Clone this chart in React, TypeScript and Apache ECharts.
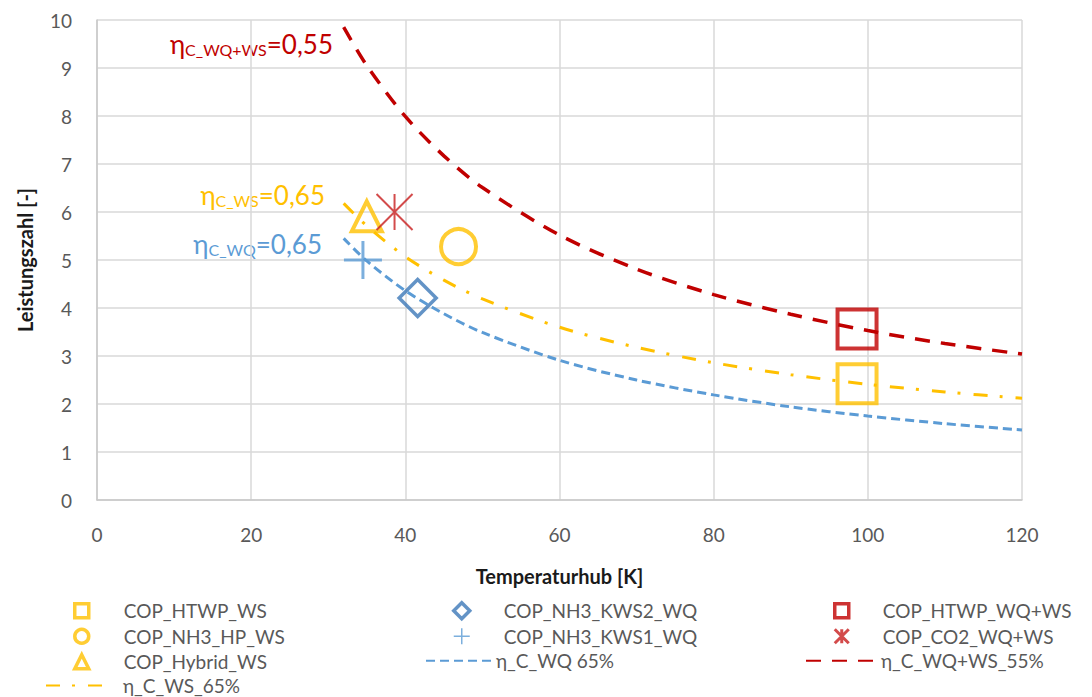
import React, { useEffect, useRef } from "react";
import * as echarts from "echarts";

// ---- data ----
const xTicks = [0, 20, 40, 60, 80, 100, 120];
const curveX = [32, 35, 40, 45, 50, 60, 70, 80, 90, 100, 110, 120];
const etaWQ65 = [5.45, 4.98, 4.36, 3.88, 3.49, 2.91, 2.5, 2.19, 1.94, 1.75, 1.59, 1.46];
const etaWS65 = [6.18, 5.71, 5.07, 4.58, 4.19, 3.6, 3.18, 2.86, 2.61, 2.41, 2.25, 2.12];
const etaWQWS55 = [9.85, 9.05, 7.99, 7.17, 6.51, 5.52, 4.81, 4.28, 3.87, 3.53, 3.26, 3.04];

const copHTWP_WS = [[98.6, 2.42]];
const copNH3_HP_WS = [[46.9, 5.28]];
const copHybrid_WS = [[35.0, 5.91]];
const copNH3_KWS2_WQ = [[41.6, 4.21]];
const copNH3_KWS1_WQ = [[34.5, 5.0]];
const copHTWP_WQWS = [[98.6, 3.56]];
const copCO2_WQWS = [[38.6, 6.0]];

const FONT = "Lato";
const YEL = "#FFC000";
const BLU = "#5B9BD5";
const BLU2 = "#3C78B8";
const RED = "#C00000";
const TXT = "#595959";

const pairs = (xs: number[], ys: number[]) => xs.map((x, i) => [x, ys[i]]);

const PLUS = "path://M5,0L5,10M0,5L10,5";
const STAR = "path://M5,0L5,10M0,0L10,10M10,0L0,10";

export default function App() {
  const ref = useRef<HTMLDivElement>(null);
  useEffect(() => {
    document.body.style.margin = "0";
    const chart = echarts.init(ref.current!, null, { renderer: "svg" });
    const legendText = (pad: number, lh = 25.5) => ({
      fontFamily: FONT,
      fontSize: 19,
      color: TXT,
      lineHeight: lh,
      padding: [0, 0, 0, pad],
    });
    const base = {
      orient: "vertical",
      padding: 0,
      itemGap: 0,
      selectedMode: false,
    };
    const lineItem = (name: string) => ({ name, itemStyle: { opacity: 0 } });
    const annot = (text: string, x: number, y: number, color: string) => ({
      type: "text",
      x,
      y,
      style: {
        text,
        align: "right",
        verticalAlign: "bottom",
        fill: color,
        rich: {
          e: { fontFamily: FONT, fontSize: 26, lineHeight: 26, verticalAlign: "bottom", fill: color },
          s: { fontFamily: FONT, fontSize: 16, lineHeight: 16, verticalAlign: "bottom", fill: color },
        },
      },
    });
    const hollow = (c: string, bw: number) => ({ color: "rgba(0,0,0,0)", borderColor: c, borderWidth: bw });
    chart.setOption({
      animation: false,
      backgroundColor: "#ffffff",
      grid: { left: 97, right: 70, top: 20, bottom: 197, containLabel: false },
      xAxis: {
        type: "value",
        min: 0,
        max: 120,
        interval: 20,
        name: "Temperaturhub [K]",
        nameLocation: "middle",
        nameGap: 66,
        nameTextStyle: { fontFamily: FONT, fontSize: 20, fontWeight: "bold", color: "#1a1a1a" },
        axisLine: { show: true, lineStyle: { color: "#C8C8C8", width: 1.5 } },
        axisTick: { show: false },
        axisLabel: {
          fontFamily: FONT,
          fontSize: 19,
          color: TXT,
          margin: 25,
          formatter: (v: number) => (xTicks.includes(v) ? String(v) : ""),
        },
        splitLine: { show: true, lineStyle: { color: "#D9D9D9", width: 1.5 } },
      },
      yAxis: {
        type: "value",
        min: 0,
        max: 10,
        interval: 1,
        name: "Leistungszahl [-]",
        nameLocation: "middle",
        nameGap: 62,
        nameTextStyle: { fontFamily: FONT, fontSize: 20, fontWeight: "bold", color: "#1a1a1a" },
        axisLine: { show: true, lineStyle: { color: "#C8C8C8", width: 1.5 } },
        axisTick: { show: false },
        axisLabel: { fontFamily: FONT, fontSize: 19, color: TXT, margin: 25 },
        splitLine: { show: true, lineStyle: { color: "#D9D9D9", width: 1.5 } },
      },
      legend: [
        {
          ...base,
          data: [
            { name: "COP_HTWP_WS", itemStyle: { borderWidth: 3.5 } },
            { name: "COP_NH3_HP_WS", itemStyle: { borderWidth: 3.5 } },
            { name: "COP_Hybrid_WS", itemStyle: { borderWidth: 3.5 } },
          ],
          left: 73,
          top: 598,
          itemWidth: 14,
          itemHeight: 14,
          textStyle: legendText(30),
        },
        {
          ...base,
          data: [lineItem("η_C_WS_65%")],
          left: 45,
          top: 676,
          itemWidth: 57,
          itemHeight: 14,
          textStyle: legendText(15, 16),
        },
        {
          ...base,
          data: [
            { name: "COP_NH3_KWS2_WQ", itemStyle: { borderWidth: 3.5 } },
            { name: "COP_NH3_KWS1_WQ", itemStyle: { borderWidth: 1.5 } },
          ],
          left: 452,
          top: 598,
          itemWidth: 16,
          itemHeight: 16,
          textStyle: legendText(29),
        },
        {
          ...base,
          data: [lineItem("η_C_WQ 65%")],
          left: 425,
          top: 648,
          itemWidth: 67,
          itemHeight: 14,
          textStyle: legendText(-2),
        },
        {
          ...base,
          data: [
            { name: "COP_HTWP_WQ+WS", itemStyle: { borderWidth: 3.5 } },
            { name: "COP_CO2_WQ+WS", itemStyle: { borderWidth: 3 } },
          ],
          left: 833,
          top: 598,
          itemWidth: 14,
          itemHeight: 14,
          textStyle: legendText(29),
        },
        {
          ...base,
          data: [lineItem("η_C_WQ+WS_55%")],
          left: 805,
          top: 648,
          itemWidth: 68,
          itemHeight: 14,
          textStyle: legendText(2),
        },
      ],
      graphic: [
        annot("{e|η}{s|C_WQ+WS}{e|=0,55}", 333, 57, RED),
        annot("{e|η}{s|C_WS}{e|=0,65}", 325, 208, YEL),
        annot("{e|η}{s|C_WQ}{e|=0,65}", 322, 257, BLU),
      ],
      series: [
        {
          name: "η_C_WQ 65%",
          type: "line",
          data: pairs(curveX, etaWQ65),
          symbol: "none",
          smooth: 0.3,
          z: 2,
          itemStyle: { color: BLU },
          lineStyle: { color: BLU, width: 3, type: [9, 5] },
        },
        {
          name: "η_C_WS_65%",
          type: "line",
          data: pairs(curveX, etaWS65),
          symbol: "none",
          smooth: 0.3,
          z: 2,
          itemStyle: { color: YEL },
          lineStyle: { color: YEL, width: 3, type: [14, 12, 3, 13] },
        },
        {
          name: "η_C_WQ+WS_55%",
          type: "line",
          data: pairs(curveX, etaWQWS55),
          symbol: "none",
          smooth: 0.3,
          z: 2,
          itemStyle: { color: RED },
          lineStyle: { color: RED, width: 3.5, type: [15, 11] },
        },
        {
          name: "COP_HTWP_WS",
          type: "scatter",
          data: copHTWP_WS,
          symbol: "rect",
          symbolSize: 39,
          z: 3,
          itemStyle: hollow(YEL, 4),
        },
        {
          name: "COP_NH3_HP_WS",
          type: "scatter",
          data: copNH3_HP_WS,
          symbol: "circle",
          symbolSize: 35,
          z: 3,
          itemStyle: hollow(YEL, 4),
        },
        {
          name: "COP_Hybrid_WS",
          type: "scatter",
          data: copHybrid_WS,
          symbol: "triangle",
          symbolSize: 30,
          z: 3,
          itemStyle: hollow(YEL, 4),
        },
        {
          name: "COP_NH3_KWS2_WQ",
          type: "scatter",
          data: copNH3_KWS2_WQ,
          symbol: "diamond",
          symbolSize: 37,
          z: 3,
          itemStyle: hollow(BLU2, 3.5),
        },
        {
          name: "COP_NH3_KWS1_WQ",
          type: "scatter",
          data: copNH3_KWS1_WQ,
          symbol: PLUS,
          symbolSize: 38,
          z: 3,
          itemStyle: hollow(BLU, 3),
        },
        {
          name: "COP_HTWP_WQ+WS",
          type: "scatter",
          data: copHTWP_WQWS,
          symbol: "rect",
          symbolSize: 39,
          z: 3,
          itemStyle: hollow(RED, 4),
        },
        {
          name: "COP_CO2_WQ+WS",
          type: "scatter",
          data: copCO2_WQWS,
          symbol: STAR,
          symbolSize: 36,
          z: 3,
          itemStyle: hollow("#C81E1E", 2),
        },
      ],
    });
    return () => chart.dispose();
  }, []);
  return <div ref={ref} style={{ width: 1092, height: 697 }} />;
}
